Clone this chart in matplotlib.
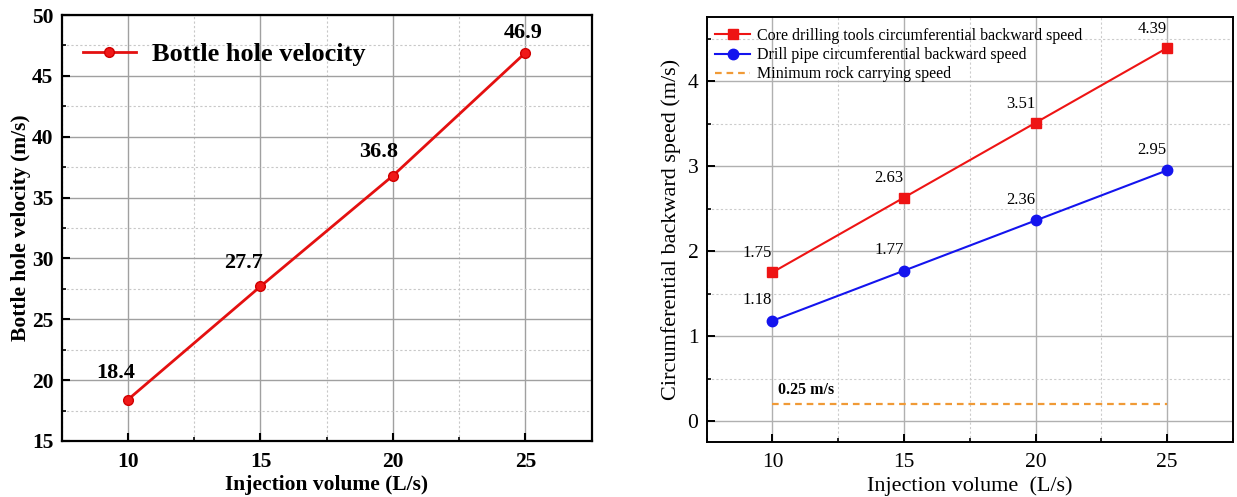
import matplotlib
matplotlib.use("Agg")
import matplotlib.pyplot as plt
from matplotlib.ticker import MultipleLocator

plt.rcParams['font.family'] = ['Liberation Serif', 'DejaVu Serif']

# ---- data ----
injection = [10, 15, 20, 25]
bottom_hole_velocity = [18.4, 27.7, 36.8, 46.9]
core_tool_speed = [1.75, 2.63, 3.51, 4.39]
drill_pipe_speed = [1.18, 1.77, 2.36, 2.95]
min_rock_speed = [0.2, 0.2]
min_rock_x = [10, 25]
min_rock_label = "0.25 m/s"
xticks = [10, 15, 20, 25]

fig = plt.figure(figsize=(12.37, 4.97), dpi=100)

# ---------------- left panel ----------------
ax1 = fig.add_axes([0.0499, 0.1127, 0.4284, 0.8571])
ax1.plot(injection, bottom_hole_velocity, color='#e41010', lw=2.0, marker='o',
         ms=7, mfc='#f01818', mec='#d00000', label='Bottle hole velocity', zorder=3)
ax1.set_xlim(7.5, 27.5)
ax1.set_ylim(15, 50)
ax1.set_xticks(xticks)
ax1.xaxis.set_minor_locator(MultipleLocator(2.5))
ax1.yaxis.set_major_locator(MultipleLocator(5))
ax1.yaxis.set_minor_locator(MultipleLocator(2.5))
ax1.grid(which='major', color='#a0a0a0', lw=1.0, ls='-')
ax1.grid(which='minor', color='#c8c8c8', lw=0.8, ls=(0, (2, 2)))
ax1.set_axisbelow(True)
for s in ax1.spines.values():
    s.set_linewidth(1.6)
ax1.tick_params(which='major', direction='in', length=6, width=1.5, labelsize=15.5, top=False, right=False)
ax1.tick_params(which='minor', direction='in', length=3, width=1.2, top=False, right=False)
ax1.tick_params(axis='x', which='major', pad=8)
ax1.tick_params(axis='y', which='major', pad=6)
for lab in ax1.get_xticklabels() + ax1.get_yticklabels():
    lab.set_fontweight('bold')
ax1.set_xlabel('Injection volume (L/s)', fontsize=15.5, fontweight='bold', labelpad=2)
ax1.set_ylabel('Bottle hole velocity (m/s)', fontsize=15.5, fontweight='bold', labelpad=0.5)
left_offsets = [(-9, 12), (-12, 10), (-10, 9.5), (-1.5, 7)]
for x, y, off in zip(injection, bottom_hole_velocity, left_offsets):
    ax1.annotate(f'{y}', (x, y), xytext=off, textcoords='offset points',
                 ha='center', va='bottom', fontsize=16, fontweight='bold')
leg1 = ax1.legend(loc='center left', bbox_to_anchor=(0.04, 0.907), frameon=False,
                  prop={'size': 19, 'weight': 'bold'}, handlelength=2.0,
                  handletextpad=0.6, borderpad=0, borderaxespad=0)

# ---------------- right panel ----------------
ax2 = fig.add_axes([0.5713, 0.110, 0.4255, 0.8552])
ax2.plot(injection, core_tool_speed, color='#ee1414', lw=1.5, marker='s', ms=6.5,
         label='Core drilling tools circumferential backward speed', zorder=3)
ax2.plot(injection, drill_pipe_speed, color='#1414ee', lw=1.5, marker='o', ms=7.5,
         label='Drill pipe circumferential backward speed', zorder=3)
ax2.plot(min_rock_x, min_rock_speed, color='#f09a36', lw=1.6, ls=(0, (3, 2.2)),
         label='Minimum rock carrying speed', zorder=3)
ax2.set_xlim(7.5, 27.5)
ax2.set_ylim(-0.25, 4.75)
ax2.set_xticks(xticks)
ax2.xaxis.set_minor_locator(MultipleLocator(2.5))
ax2.yaxis.set_major_locator(MultipleLocator(1))
ax2.yaxis.set_minor_locator(MultipleLocator(0.5))
ax2.grid(which='major', color='#b0b0b0', lw=1.0, ls='-')
ax2.grid(which='minor', color='#cccccc', lw=0.8, ls=(0, (2, 2)))
ax2.set_axisbelow(True)
for s in ax2.spines.values():
    s.set_linewidth(1.4)
ax2.tick_params(which='major', direction='in', length=6, width=1.4, labelsize=15.5, top=False, right=False)
ax2.tick_params(which='minor', direction='in', length=3, width=1.2, top=False, right=False)
ax2.tick_params(axis='x', which='major', pad=8)
ax2.tick_params(axis='y', which='major', pad=6)
ax2.set_xlabel('Injection volume  (L/s)', fontsize=16, labelpad=3)
ax2.set_ylabel('Circumferential backward speed (m/s)', fontsize=16, labelpad=5)
for x, y in zip(injection, core_tool_speed):
    ax2.annotate(f'{y:.2f}', (x, y), xytext=(-11, 8), textcoords='offset points',
                 ha='center', va='bottom', fontsize=12)
for x, y in zip(injection, drill_pipe_speed):
    ax2.annotate(f'{y:.2f}', (x, y), xytext=(-11, 9), textcoords='offset points',
                 ha='center', va='bottom', fontsize=12)
ax2.annotate(min_rock_label, (min_rock_x[0], min_rock_speed[0]), xytext=(4, 4.5),
             textcoords='offset points', ha='left', va='bottom', fontsize=11.5,
             fontweight='bold')
leg2 = ax2.legend(loc='upper left', bbox_to_anchor=(0.016, 0.975), frameon=False,
                  fontsize=11.5, handlelength=2.2, handletextpad=0.45,
                  labelspacing=0.2, borderpad=0, borderaxespad=0)

fig.savefig('out.png', dpi=100)
